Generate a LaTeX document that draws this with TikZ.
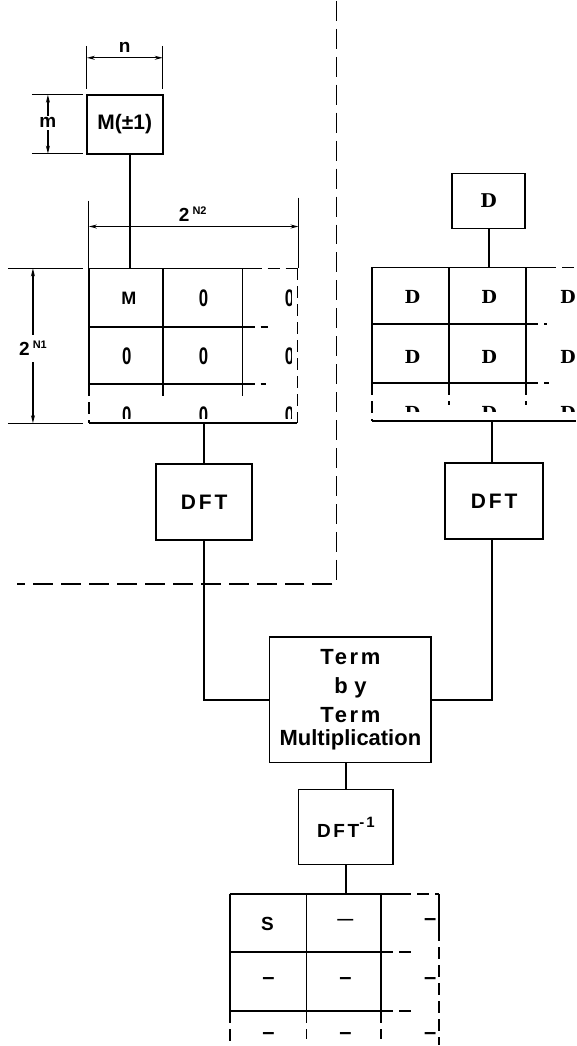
\documentclass[tikz,border=0pt]{standalone}
\usepackage{fontspec}
\setmainfont{Liberation Sans}
\newfontfamily\slabfont{DejaVu Serif}
\newfontfamily\widefont[LetterSpace=14]{Liberation Sans}
\usepackage{tikz}
\usetikzlibrary{arrows.meta}

\begin{document}
\begin{tikzpicture}
	[x=0.5pt, y=-0.5pt, line width=0.9pt,
	blk/.style={draw, inner sep=0pt, align=center, font=\bfseries\fontsize{10.5}{12}\selectfont},
	dftbox/.style={blk, minimum width=48pt, minimum height=38pt, font=\widefont\bfseries\fontsize{10.5}{12}\selectfont},
	lab/.style={inner sep=1pt, font=\bfseries\fontsize{9.5}{10}\selectfont},
	zcell/.style={inner sep=0pt, font=\bfseries\fontsize{12}{12}\selectfont},
	dcell/.style={inner sep=0pt, font=\slabfont\bfseries\fontsize{9}{9}\selectfont},
	bcell/.style={inner sep=0pt, font=\bfseries\fontsize{11}{11}\selectfont},
	gridarea/.style={inner sep=0pt},
	partline/.style={dash pattern=on 6pt off 3pt},
	fence/.style={dash pattern=on 10pt off 4pt},
	extline/.style={line width=0.6pt},
	dimline/.style={line width=0.6pt, {Stealth[length=4pt,width=2pt]}-{Stealth[length=4pt,width=2pt]}}]
	\path[fill=white] (0,0) rectangle (577,1046);
	\draw[fence] (337,0) -- (337,584) -- (17,584);
	\node[blk, minimum width=38pt, minimum height=29.5pt] (mbox) at (125,123.5) {M(±1)};
	\node[blk, minimum width=36.5pt, minimum height=27.5pt, font=\slabfont\bfseries\fontsize{9.5}{10}\selectfont] (dbox) at (489.5,200.5) {D};
	\draw[extline] (87,45) -- (87,88);
	\draw[extline] (163,45) -- (163,88);
	\draw[dimline] (87,57) -- (163,57);
	\node[lab] (nlab) at (125,47) {n};
	\draw[extline] (32,94) -- (83,94);
	\draw[extline] (32,153) -- (83,153);
	\draw[dimline] (48,94) -- (48,153);
	\node[lab, fill=white] (mlab) at (48,122) {m};
	\draw[extline] (89,200) -- (89,268);
	\draw[extline] (299,197) -- (299,268);
	\draw[dimline] (89,226) -- (299,226);
	\node[lab] (ntwo) at (193,214) {2\,\raisebox{3.5pt}{\fontsize{5.5}{6}\selectfont N2}};
	\draw[extline] (8,268) -- (83,268);
	\draw[extline] (8,423) -- (83,423);
	\draw[dimline] (33,268) -- (33,423);
	\node[lab, fill=white, inner sep=3pt] (none) at (33,348) {2\,\raisebox{3.5pt}{\fontsize{5.5}{6}\selectfont N1}};
	% left grid
	\node[gridarea, minimum width=104.5pt, minimum height=77.5pt] (lgrid) at (193.5,345.5) {};
	\draw (89,268) -- (250,268);
	\draw[partline] (250,268) -- (298,268);
	\draw (89,268) -- (89,384);
	\draw[partline] (89,384) -- (89,423);
	\draw (89,423) -- (298,423);
	\draw[partline] (298,268) -- (298,423);
	\draw (89,327) -- (243,327);
	\draw[partline] (243,327) -- (268,327);
	\draw (89,384) -- (243,384);
	\draw[partline] (243,384) -- (266,384);
	\draw (163,268) -- (163,384);
	\draw[partline] (163,384) -- (163,402);
	\draw (243,268) -- (243,384);
	\draw[partline] (243,384) -- (243,400);
	\begin{scope}
		\clip (89,268) rectangle (292,418);
		\node[inner sep=0pt, font=\bfseries\fontsize{9}{9}\selectfont] (mtop) at (129,298) {M};
		\foreach \x/\y [count=\i] in {204/298, 290/298, 127/356, 204/356, 290/356, 127/415, 204/415, 290/415}
			\node[zcell] (z\i) at (\x,\y) {\scalebox{0.7}[1]{0}};
	\end{scope}
	% right grid
	\node[gridarea, minimum width=102pt, minimum height=77pt] (rgrid) at (475,344) {};
	\draw (373,267) -- (545,267);
	\draw[partline] (545,267) -- (577,267);
	\draw (373,267) -- (373,383);
	\draw[partline] (373,383) -- (373,421);
	\draw (373,421) -- (577,421);
	\draw (373,324) -- (527,324);
	\draw[partline] (527,324) -- (548,324);
	\draw (373,383) -- (527,383);
	\draw[partline] (527,383) -- (550,383);
	\draw (450,267) -- (450,383);
	\draw[partline] (450,383) -- (450,405);
	\draw (527,267) -- (527,383);
	\draw[partline] (527,383) -- (527,405);
	\begin{scope}
		\clip (373,267) rectangle (577,411);
		\foreach \x/\y [count=\i] in {413/297, 490/297, 569/297, 413/357, 490/357, 569/357, 413/413, 490/413, 569/413}
			\node[dcell] (d\i) at (\x,\y) {D};
	\end{scope}
	\node[dftbox] (ldft) at (204.5,502) {DFT};
	\node[dftbox, minimum width=49pt] (rdft) at (495,501) {DFT};
	\node[blk, minimum width=81pt, minimum height=63pt, font=\bfseries\fontsize{11}{14}\selectfont] (term) at (351,700)
		{{\addfontfeature{LetterSpace=12}Term}\\[1pt] {\addfontfeature{LetterSpace=30}by}\\[0.5pt] {\addfontfeature{LetterSpace=12}Term}\\[-2.5pt] Multiplication};
	\node[blk, minimum width=47.5pt, minimum height=37.5pt, font=\widefont\bfseries\fontsize{9.5}{11}\selectfont] (idft) at (346.5,827.5)
		{DFT\raisebox{5pt}{\fontsize{7.5}{8}\selectfont -1}};
	% bottom grid
	\node[gridarea, minimum width=105pt, minimum height=75pt] (bgrid) at (335,970) {};
	\draw (230,895) -- (400,895);
	\draw[partline] (400,895) -- (440,895);
	\draw (230,895) -- (230,1012);
	\draw[partline] (230,1012) -- (230,1046);
	\draw (440,895) -- (440,930);
	\draw[partline] (440,930) -- (440,1046);
	\draw (230,953) -- (382,953);
	\draw[partline] (382,953) -- (413,953);
	\draw (230,1012) -- (382,1012);
	\draw[partline] (382,1012) -- (415,1012);
	\draw (307,895) -- (307,1012);
	\draw[partline] (307,1012) -- (307,1040);
	\draw (382,895) -- (382,1012);
	\draw[partline] (382,1012) -- (382,1040);
	\begin{scope}
		\clip (230,895) rectangle (436,1046);
		\node[inner sep=0pt, font=\bfseries\fontsize{9.5}{10}\selectfont] (stop) at (268,925) {S};
		\node[bcell, font=\bfseries\fontsize{8}{8}\selectfont] (etop) at (346,923) {—};
		\foreach \x/\y [count=\i] in {431/923, 269/982, 346/982, 431/982, 269/1037, 346/1037, 431/1037}
			\node[bcell] (e\i) at (\x,\y) {–};
	\end{scope}
	% connectors
	\draw ([xshift=2.5pt]mbox.south) -- ([xshift=2.5pt]mbox.south |- lgrid.north);
	\draw (dbox.south) -- (dbox.south |- rgrid.north);
	\draw (ldft.north |- lgrid.south) -- (ldft.north);
	\draw ([xshift=-1pt]rdft.north |- rgrid.south) -- ([xshift=-1pt]rdft.north);
	\draw (ldft.south) |- (term.west);
	\draw ([xshift=-1pt]rdft.south) |- (term.east);
	\draw (idft.north |- term.south) -- (idft.north);
	\draw (idft.south) -- (idft.south |- bgrid.north);
\end{tikzpicture}
\end{document}
